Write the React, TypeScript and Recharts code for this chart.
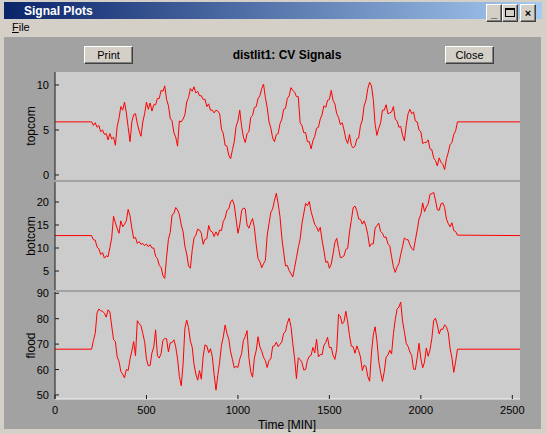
import React from 'react';
import { LineChart, Line, XAxis, YAxis, CartesianGrid } from 'recharts';

// samples every 10 min from 200 to 2200, flat before and after
const T_START = 200;
const T_STEP = 10;
const T_END = 2542;

const topcomFlat = 5.9;
const botcomFlat = 12.7;
const floodFlat = 68;

const topcom = [
  5.9, 5.5, 5.8, 5.3, 5.5, 4.8, 5.0, 4.5, 4.6, 3.9,
  4.6, 4.0, 4.2, 3.3, 5.4, 6.3, 7.6, 7.2, 8.1, 6.9,
  5.3, 3.7, 5.9, 6.7, 6.8, 5.7, 4.9, 4.3, 5.9, 6.8,
  8.1, 7.3, 8.0, 7.1, 7.8, 7.8, 8.5, 8.5, 9.4, 9.3,
  9.9, 8.4, 7.7, 6.3, 6.0, 4.7, 4.2, 3.2, 6.0, 5.9,
  6.2, 6.7, 8.1, 8.6, 9.6, 9.3, 9.8, 9.1, 9.3, 8.8,
  8.8, 8.4, 8.4, 7.6, 7.9, 7.2, 7.2, 6.9, 7.2, 7.1,
  6.8, 5.1, 4.6, 3.3, 3.2, 2.2, 1.8, 2.8, 3.7, 5.4,
  6.0, 7.2, 5.4, 4.2, 3.6, 4.6, 4.8, 6.4, 6.6, 7.5,
  7.6, 8.5, 8.8, 9.6, 10.1, 8.6, 7.5, 5.9, 5.2, 4.1,
  3.7, 4.5, 4.6, 5.7, 6.2, 7.3, 7.4, 8.5, 8.8, 9.7,
  9.4, 9.2, 8.7, 8.7, 5.8, 5.5, 4.7, 4.7, 3.7, 3.7,
  2.9, 3.8, 4.3, 5.2, 5.3, 6.2, 6.7, 7.7, 7.5, 8.3,
  8.4, 9.4, 8.3, 7.9, 6.8, 6.4, 5.6, 5.8, 5.0, 4.0,
  3.5, 4.5, 3.3, 3.0, 3.2, 4.0, 4.1, 5.5, 6.1, 7.7,
  8.3, 9.6, 10.3, 9.9, 8.4, 5.6, 4.4, 5.2, 5.8, 7.2,
  7.2, 7.8, 6.8, 6.9, 7.0, 7.6, 6.2, 6.0, 5.3, 5.4,
  4.4, 3.8, 5.5, 6.8, 7.3, 6.8, 7.0, 6.0, 5.9, 5.0,
  4.8, 3.5, 3.6, 3.6, 3.9, 2.9, 2.8, 1.9, 1.6, 1.0,
  1.9, 1.4, 1.2, 0.6, 1.8, 2.5, 3.4, 3.6, 4.5, 4.9,
  5.9,
];

const botcom = [
  12.7, 11.8, 11.7, 10.2, 9.8, 8.6, 9.0, 7.8, 8.3, 8.1,
  10.1, 12.2, 16.9, 15.5, 14.2, 13.2, 15.9, 14.6, 15.2, 15.9,
  18.4, 17.0, 14.3, 12.1, 12.3, 11.0, 11.4, 10.8, 11.0, 10.5,
  10.9, 10.3, 10.7, 10.0, 10.0, 8.2, 7.7, 6.2, 5.8, 4.0,
  3.4, 8.0, 11.9, 13.4, 17.2, 17.5, 18.8, 18.3, 17.3, 15.0,
  13.6, 10.4, 8.7, 6.1, 5.6, 9.5, 12.2, 12.8, 14.1, 13.9,
  13.2, 10.8, 11.9, 12.0, 14.9, 13.7, 13.5, 12.5, 13.5, 12.7,
  13.9, 13.8, 15.8, 16.5, 18.2, 18.5, 20.0, 20.5, 19.3, 16.3,
  13.2, 15.0, 18.1, 18.7, 18.5, 15.0, 14.3, 15.5, 16.4, 14.4,
  10.7, 7.7, 7.0, 5.7, 6.6, 7.3, 12.8, 15.3, 17.8, 18.5,
  20.4, 21.9, 19.6, 16.8, 12.2, 9.1, 6.1, 6.2, 5.1, 4.4,
  3.7, 5.8, 7.9, 10.1, 11.9, 15.3, 17.5, 19.7, 19.2, 20.1,
  17.9, 16.5, 15.1, 14.6, 13.6, 14.5, 11.7, 9.5, 6.9, 7.1,
  5.6, 6.5, 8.7, 11.2, 12.1, 9.9, 7.9, 8.0, 8.3, 9.7,
  9.9, 13.5, 16.0, 18.8, 19.1, 18.1, 16.3, 16.2, 15.2, 15.9,
  14.7, 12.9, 10.3, 10.9, 10.9, 14.3, 14.9, 15.4, 13.6, 13.2,
  12.3, 12.4, 10.9, 10.5, 8.1, 5.9, 4.7, 5.9, 6.6, 8.6,
  10.3, 12.2, 11.8, 11.8, 10.7, 9.9, 9.5, 11.7, 13.9, 16.3,
  17.3, 19.8, 17.9, 18.9, 19.6, 21.7, 21.8, 22.1, 20.4, 18.3,
  18.2, 19.6, 19.8, 18.8, 16.3, 15.3, 14.6, 15.5, 13.8, 13.6,
  12.8,
];

const flood = [
  68.0, 71.4, 74.3, 82.3, 83.8, 83.1, 82.9, 82.2, 80.6, 83.5,
  82.6, 77.1, 71.8, 71.0, 64.9, 63.2, 59.2, 58.2, 56.7, 60.0,
  59.6, 64.1, 67.3, 71.0, 65.4, 79.2, 78.1, 77.2, 74.2, 70.9,
  64.1, 61.5, 61.6, 66.5, 68.9, 75.6, 65.4, 64.5, 66.3, 71.5,
  72.2, 72.1, 66.9, 70.5, 70.6, 71.7, 68.9, 64.2, 57.2, 53.6,
  61.9, 76.2, 79.4, 76.5, 71.2, 68.8, 62.0, 58.2, 55.8, 59.6,
  56.2, 65.2, 69.7, 69.3, 66.6, 68.2, 65.0, 57.9, 51.9, 57.7,
  62.9, 69.5, 72.8, 77.5, 74.2, 72.0, 67.0, 64.0, 60.6, 61.3,
  60.8, 64.1, 66.3, 71.4, 73.0, 75.3, 64.6, 59.1, 57.0, 64.5,
  67.5, 72.9, 68.9, 67.2, 64.8, 63.5, 60.8, 63.6, 64.2, 69.1,
  69.3, 70.8, 69.0, 69.9, 70.9, 74.3, 74.9, 78.2, 80.2, 76.9,
  70.2, 64.2, 56.4, 64.6, 63.9, 62.8, 59.8, 60.0, 63.6, 65.2,
  65.6, 68.7, 66.5, 71.9, 65.0, 65.9, 65.8, 69.5, 70.6, 72.7,
  68.6, 68.7, 65.6, 64.0, 67.9, 81.7, 81.0, 77.9, 78.9, 82.9,
  78.7, 73.3, 69.2, 69.0, 66.4, 69.3, 67.4, 64.9, 59.6, 61.7,
  61.2, 57.2, 55.4, 66.5, 73.6, 76.8, 71.2, 63.1, 58.8, 55.3,
  59.2, 64.9, 65.7, 67.6, 66.1, 74.1, 79.6, 83.7, 84.6, 86.5,
  79.0, 74.9, 70.3, 69.1, 66.9, 65.5, 60.2, 60.0, 64.7, 70.3,
  64.2, 60.7, 62.9, 68.5, 65.2, 67.7, 72.2, 79.2, 80.2, 77.5,
  74.0, 75.9, 75.8, 77.6, 76.7, 74.5, 68.2, 64.5, 58.9, 63.1,
  68.0,
];

const xTicks = [0, 500, 1000, 1500, 2000, 2500];
const topcomTicks = [0, 5, 10];
const botcomTicks = [5, 10, 15, 20];
const floodTicks = [50, 60, 70, 80, 90];

const FRAME = '#1c1c1c';
const FONT = '"Liberation Sans", Arial, sans-serif';
const PAD = 8; // room above each plot for the top tick label

function toRows(vals: number[], flat: number) {
  return [
    { t: 0, v: flat },
    ...vals.map((v, i) => ({ t: T_START + i * T_STEP, v })),
    { t: T_END, v: flat },
  ];
}

type PanelProps = {
  label: string;
  rows: { t: number; v: number }[];
  domain: [number, number];
  ticks: number[];
  top: number;
  plotH: number;
  last?: boolean;
};

function Panel({ label, rows, domain, ticks, top, plotH, last }: PanelProps) {
  const axisH = last ? 36 : 0;
  const midY = PAD + plotH / 2;
  return (
    <div style={{ position: 'absolute', left: 0, top: top - PAD }}>
      <LineChart
        width={546}
        height={plotH + PAD + 2 + axisH}
        data={rows}
        margin={{ top: PAD, right: 26, bottom: 2, left: 0 }}
      >
        <CartesianGrid horizontal={false} vertical={false} fill="#cccccc" fillOpacity={1} stroke="none" />
        <XAxis
          xAxisId="b"
          dataKey="t"
          type="number"
          domain={[0, T_END]}
          allowDataOverflow
          ticks={xTicks}
          interval={0}
          height={axisH}
          tickLine={false}
          tickSize={0}
          tickMargin={0}
          axisLine={{ stroke: last ? '#f4f4f4' : FRAME }}
          tick={(p: any) => (
            <g>
              <line x1={p.x} x2={p.x} y1={p.y - 4} y2={p.y} stroke={FRAME} />
              {last && (
                <text x={p.x} y={p.y + 15} textAnchor="middle" fontSize={11} fontFamily={FONT} fill="#000">
                  {p.payload.value}
                </text>
              )}
            </g>
          )}
          label={
            last
              ? {
                  content: () => (
                    <text x={287} y={PAD + plotH + 30} textAnchor="middle" fontSize={12} fontFamily={FONT} fill="#000">
                      Time [MIN]
                    </text>
                  ),
                }
              : undefined
          }
        />
        <XAxis
          xAxisId="t"
          orientation="top"
          dataKey="t"
          type="number"
          domain={[0, T_END]}
          allowDataOverflow
          ticks={xTicks}
          interval={0}
          height={0}
          tickLine={false}
          tickSize={0}
          tickMargin={0}
          axisLine={{ stroke: FRAME }}
          tick={(p: any) => <line x1={p.x} x2={p.x} y1={p.y} y2={p.y + 4} stroke={FRAME} />}
        />
        <YAxis
          yAxisId="l"
          type="number"
          domain={domain}
          allowDataOverflow
          ticks={ticks}
          interval={0}
          width={55}
          tickLine={false}
          tickSize={0}
          tickMargin={0}
          axisLine={{ stroke: FRAME }}
          tick={(p: any) => (
            <g>
              <line x1={p.x} x2={p.x + 4} y1={p.y} y2={p.y} stroke={FRAME} />
              <text x={p.x - 6} y={p.y + 4} textAnchor="end" fontSize={11} fontFamily={FONT} fill="#000">
                {p.payload.value}
              </text>
            </g>
          )}
          label={{
            content: () => (
              <text
                x={31}
                y={midY}
                transform={`rotate(-90 31 ${midY})`}
                textAnchor="middle"
                dominantBaseline="central"
                fontSize={12}
                fontFamily={FONT}
                fill="#000"
              >
                {label}
              </text>
            ),
          }}
        />
        <YAxis
          yAxisId="r"
          orientation="right"
          type="number"
          domain={domain}
          allowDataOverflow
          ticks={ticks}
          interval={0}
          width={0}
          tickLine={false}
          tickSize={0}
          tickMargin={0}
          axisLine={{ stroke: FRAME }}
          tick={(p: any) => <line x1={p.x - 4} x2={p.x} y1={p.y} y2={p.y} stroke={FRAME} />}
        />
        <Line
          xAxisId="b"
          yAxisId="l"
          type="linear"
          dataKey="v"
          stroke="#ff0000"
          strokeWidth={1}
          dot={false}
          isAnimationActive={false}
        />
      </LineChart>
    </div>
  );
}

function WinButton({ left, top, width, children }: { left: number; top: number; width: number; children: React.ReactNode }) {
  return (
    <div
      style={{
        position: 'absolute',
        left,
        top,
        width,
        height: 16,
        background: '#d4d0c8',
        borderTop: '1px solid #ffffff',
        borderLeft: '1px solid #ffffff',
        borderRight: '1px solid #404040',
        borderBottom: '1px solid #404040',
        boxShadow: 'inset -1px -1px 0 #808080',
        fontSize: 11,
        lineHeight: '16px',
        textAlign: 'center',
        color: '#000',
        fontFamily: FONT,
      }}
    >
      {children}
    </div>
  );
}

export default function App() {
  return (
    <div
      style={{
        position: 'fixed',
        left: 0,
        top: 0,
        width: 546,
        height: 434,
        background: '#d4d0c8',
        overflow: 'hidden',
        fontFamily: FONT,
      }}
    >
      <div
        style={{
          position: 'absolute',
          left: 4,
          top: 2,
          width: 538,
          height: 17,
          background: 'linear-gradient(to right, #0a246a, #a6caf0)',
        }}
      />
      <div style={{ position: 'absolute', left: 24, top: 3, color: '#fff', fontWeight: 'bold', fontSize: 12, lineHeight: '16px' }}>
        Signal Plots
      </div>
      <WinButton left={486} top={4} width={14}>
        <span style={{ fontWeight: 'bold' }}>_</span>
      </WinButton>
      <WinButton left={502} top={4} width={14}>
        <span style={{ display: 'inline-block', width: 8, height: 6, border: '1px solid #000', borderTopWidth: 2, marginTop: 3 }} />
      </WinButton>
      <WinButton left={520} top={4} width={14}>
        <span style={{ fontWeight: 'bold' }}>×</span>
      </WinButton>
      <div style={{ position: 'absolute', left: 12, top: 21, fontSize: 11, color: '#000' }}>
        <u>F</u>ile
      </div>
      <div style={{ position: 'absolute', left: 4, top: 37, width: 537, height: 392, background: '#a2a2a2' }} />
      <WinButton left={84} top={46} width={47}>Print</WinButton>
      <WinButton left={445} top={46} width={47}>Close</WinButton>
      <div
        style={{
          position: 'absolute',
          left: 187,
          width: 200,
          top: 47,
          textAlign: 'center',
          fontWeight: 'bold',
          fontSize: 12,
          lineHeight: '16px',
          color: '#000',
        }}
      >
        distlit1: CV Signals
      </div>
      <Panel label="topcom" rows={toRows(topcom, topcomFlat)} domain={[-0.56, 11.44]} ticks={topcomTicks} top={72} plotH={108} />
      <Panel label="botcom" rows={toRows(botcom, botcomFlat)} domain={[0.87, 24.35]} ticks={botcomTicks} top={182} plotH={108} />
      <Panel label="flood" rows={toRows(flood, floodFlat)} domain={[48.4, 90.5]} ticks={floodTicks} top={292} plotH={107} last />
    </div>
  );
}
